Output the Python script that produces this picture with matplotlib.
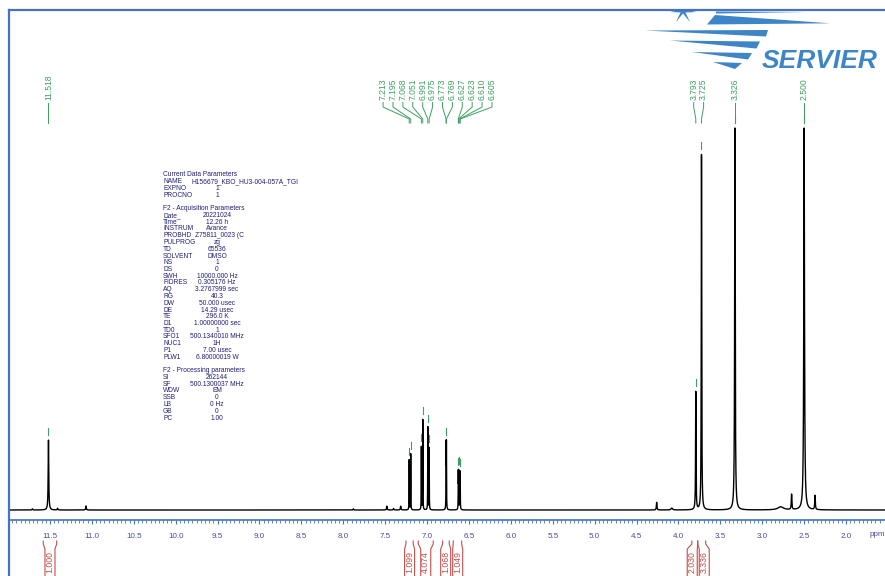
import numpy as np
import matplotlib
matplotlib.use("Agg")
import matplotlib.pyplot as plt
from matplotlib.patches import Polygon
from matplotlib.lines import Line2D
from matplotlib.transforms import Affine2D, blended_transform_factory

plt.rcParams["font.family"] = ["Liberation Sans", "DejaVu Sans"]

W, H = 885, 576

# 1H spectrum, DMSO-d6: shift (ppm), height (% of the 2.500 line), half width (ppm)
peak_ppm = [11.71, 11.518, 11.41, 11.07, 7.88, 7.48, 7.40, 7.315,
            7.213, 7.195, 7.068, 7.051, 6.991, 6.975, 6.773, 6.769,
            6.627, 6.623, 6.610, 6.605, 4.26, 4.08, 3.793, 3.725,
            3.326, 2.78, 2.65, 2.500, 2.37]
peak_height = [0.3, 18.3, 0.45, 1.05, 0.3, 1.0, 0.4, 1.0,
               13.1, 14.7, 16.5, 23.6, 21.7, 16.2, 16.3, 16.3,
               9.3, 9.3, 9.3, 9.3, 2.0, 0.5, 30.9, 93.0,
               100.0, 0.8, 4.0, 100.0, 3.7]
peak_hw = [0.004, 0.004, 0.004, 0.004, 0.004, 0.004, 0.004, 0.004,
           0.0015, 0.0015, 0.0015, 0.0015, 0.0015, 0.0015, 0.0015, 0.0015,
           0.0015, 0.0015, 0.0015, 0.0015, 0.004, 0.01, 0.003, 0.003,
           0.004, 0.04, 0.004, 0.005, 0.004]

# picked peaks, grouped as they are labelled on top
label_groups = [[11.518],
                [7.213, 7.195, 7.068, 7.051, 6.991, 6.975, 6.773, 6.769,
                 6.627, 6.623, 6.610, 6.605],
                [3.793, 3.725],
                [3.326],
                [2.500]]

# integrals
int_left = [11.58, 7.252, 7.105, 6.814, 6.688, 3.84, 3.77]
int_right = [11.42, 7.165, 6.926, 6.735, 6.587, 3.77, 3.675]
int_value = ["1.000", "1.099", "4.074", "1.068", "1.049", "2.030", "3.336"]

params = [
    ("Current Data Parameters", ""), ("NAME", "H156679_KBO_HU3-004-057A_TGI"),
    ("EXPNO", "1"), ("PROCNO", "1"), ("", ""),
    ("F2 - Acquisition Parameters", ""), ("Date_", "20221024"), ("Time", "12.26 h"),
    ("INSTRUM", "Avance"), ("PROBHD", "Z75811_0023 (C"), ("PULPROG", "zg"),
    ("TD", "65536"), ("SOLVENT", "DMSO"), ("NS", "1"), ("DS", "0"),
    ("SWH", "10000.000 Hz"), ("FIDRES", "0.305176 Hz"), ("AQ", "3.2767999 sec"),
    ("RG", "40.3"), ("DW", "50.000 usec"), ("DE", "14.29 usec"), ("TE", "296.0 K"),
    ("D1", "1.00000000 sec"), ("TD0", "1"), ("SFO1", "500.1340010 MHz"),
    ("NUC1", "1H"), ("P1", "7.00 usec"), ("PLW1", "6.80000019 W"), ("", ""),
    ("F2 - Processing parameters", ""), ("SI", "262144"), ("SF", "500.1300037 MHz"),
    ("WDW", "EM"), ("SSB", "0"), ("LB", "0 Hz"), ("GB", "0"), ("PC", "1.00"),
]

BLUE = "#4472c4"
GREEN = "#3f9e62"
RED = "#c0504d"
NAVY = "#1f1f78"
LOGO = "#3d85c6"

X_LEFT, X_RIGHT = 11.989, 1.535
PX_PER_UNIT = 3.82      # vertical pixels per intensity unit
PPM_PER_PX = 1 / 83.8


def spread(centres, gap):
    pos = list(centres)
    for _ in range(30):
        for i in range(len(pos) - 1):
            d = pos[i] - pos[i + 1]
            if d < gap:
                s = (gap - d) / 2
                pos[i] += s
                pos[i + 1] -= s
    return pos


fig = plt.figure(figsize=(W / 100, H / 100), dpi=100)
top_px = Affine2D().scale(1 / W, -1 / H).translate(0, 1) + fig.transFigure

ax = fig.add_axes([9 / W, (H - 520) / H, (W - 9) / W, 510 / H])
ax.set_xlim(X_LEFT, X_RIGHT)
ax.set_ylim(-10 / PX_PER_UNIT, 500 / PX_PER_UNIT)
xy = blended_transform_factory(ax.transData, top_px)

# spectrum
ppm = np.linspace(X_LEFT, X_RIGHT, 60000)
spec = np.zeros_like(ppm)
for c, h, w in zip(peak_ppm, peak_height, peak_hw):
    spec += h / (1 + ((ppm - c) / w) ** 2)
ax.plot(ppm, spec, color="black", lw=1.0)

for s in ("top", "right", "left"):
    ax.spines[s].set_visible(False)
ax.spines["bottom"].set_color(BLUE)
ax.spines["bottom"].set_linewidth(1.2)
ax.set_yticks([])
ax.set_xticks(np.arange(11.5, 1.9, -0.5))
ax.set_xticklabels([f"{t:.1f}" for t in np.arange(11.5, 1.9, -0.5)])
ax.set_xticks(np.arange(11.95, 1.55, -0.05), minor=True)
ax.tick_params(axis="x", which="major", colors=BLUE, length=3, width=0.8,
               labelsize=5.8, labelcolor="#4b4b9b", pad=6)
ax.tick_params(axis="x", which="minor", colors=BLUE, length=2, width=0.6)
ax.text(870, 534, "ppm", transform=top_px, fontsize=5.8, color="#4b4b9b",
        ha="left", va="center")

# peak picking labels
gap = 9.9 * PPM_PER_PX
for group in label_groups:
    n = len(group)
    mid = np.mean(group)
    for i, p in enumerate(group):
        lx = mid + ((n - 1) / 2 - i) * gap
        ax.text(lx, 100, f"{p:.3f}", transform=xy, rotation=90, ha="center",
                va="bottom", fontsize=6.2, color=GREEN)
        ax.add_line(Line2D([lx, lx, p, p], [102.5, 107, 119, 123],
                           transform=xy, color=GREEN, lw=0.7))
        k = np.argmin(np.abs(ppm - p))
        top = spec[max(k - 15, 0):k + 15].max()
        ax.plot([p, p], [top + 5 / PX_PER_UNIT, top + 12 / PX_PER_UNIT],
                color=GREEN, lw=0.8)

# integrals under the axis
centres = [(a + b) / 2 for a, b in zip(int_left, int_right)]
labx = spread(centres, 12 * PPM_PER_PX)
hw = 5 * PPM_PER_PX
for a, b, lx, v in zip(int_left, int_right, labx, int_value):
    for edge, side in ((a, lx + hw), (b, lx - hw)):
        ax.add_line(Line2D([edge, edge, side, side], [541, 544, 549, 580],
                           transform=xy, color=RED, lw=0.8, clip_on=False))
    ax.text(lx, 562, v, transform=xy, rotation=90, ha="center", va="center",
            fontsize=6.3, color=RED, clip_on=False)

# acquisition / processing parameters
for i, (k, v) in enumerate(params):
    y = 175 + i * 6.75
    if k:
        fig.text(163, y, k, transform=top_px, fontsize=4.8, color=NAVY,
                 va="center", ha="left")
    if v:
        if k == "NAME":
            fig.text(191, y, v, transform=top_px, fontsize=4.8, color=NAVY,
                     va="center", ha="left")
        elif k == "PROBHD":
            fig.text(195, y, v, transform=top_px, fontsize=4.8, color=NAVY,
                     va="center", ha="left")
        else:
            fig.text(217, y, v, transform=top_px, fontsize=4.8, color=NAVY,
                     va="center", ha="center")

# frame
fig.add_artist(Line2D([9, 9], [10, H], transform=top_px, color=BLUE, lw=1.6))
fig.add_artist(Line2D([9, W], [10, 10], transform=top_px, color=BLUE, lw=1.6))

# logo
stripes = [
    [(716, 11.5), (806, 12), (716, 13.5)],
    [(715, 15), (830, 23.3), (707, 24.5)],
    [(645, 30.5), (768, 30), (766, 36.5)],
    [(670, 40.5), (760, 41.5), (756.5, 48.5)],
    [(692, 52), (752, 53), (748, 59.5)],
    [(713, 62), (742, 63), (735, 69)],
]
for pts in stripes:
    fig.add_artist(Polygon(pts, closed=True, transform=top_px, color=LOGO, lw=0))
for ex, ey in ((670, 12), (697, 12), (676, 22), (690, 22)):
    cx, cy = 683, 11
    dx, dy = ex - cx, ey - cy
    L = np.hypot(dx, dy)
    nx, ny = -dy / L * 1.6, dx / L * 1.6
    fig.add_artist(Polygon([(cx + nx, cy + ny), (ex, ey), (cx - nx, cy - ny)],
                           closed=True, transform=top_px, color=LOGO, lw=0))
fig.text(762, 68, "SERVIER", transform=top_px, fontsize=19, color=LOGO,
         fontweight="bold", fontstyle="italic", ha="left", va="baseline")

fig.savefig("out.png", dpi=100, facecolor="white")
